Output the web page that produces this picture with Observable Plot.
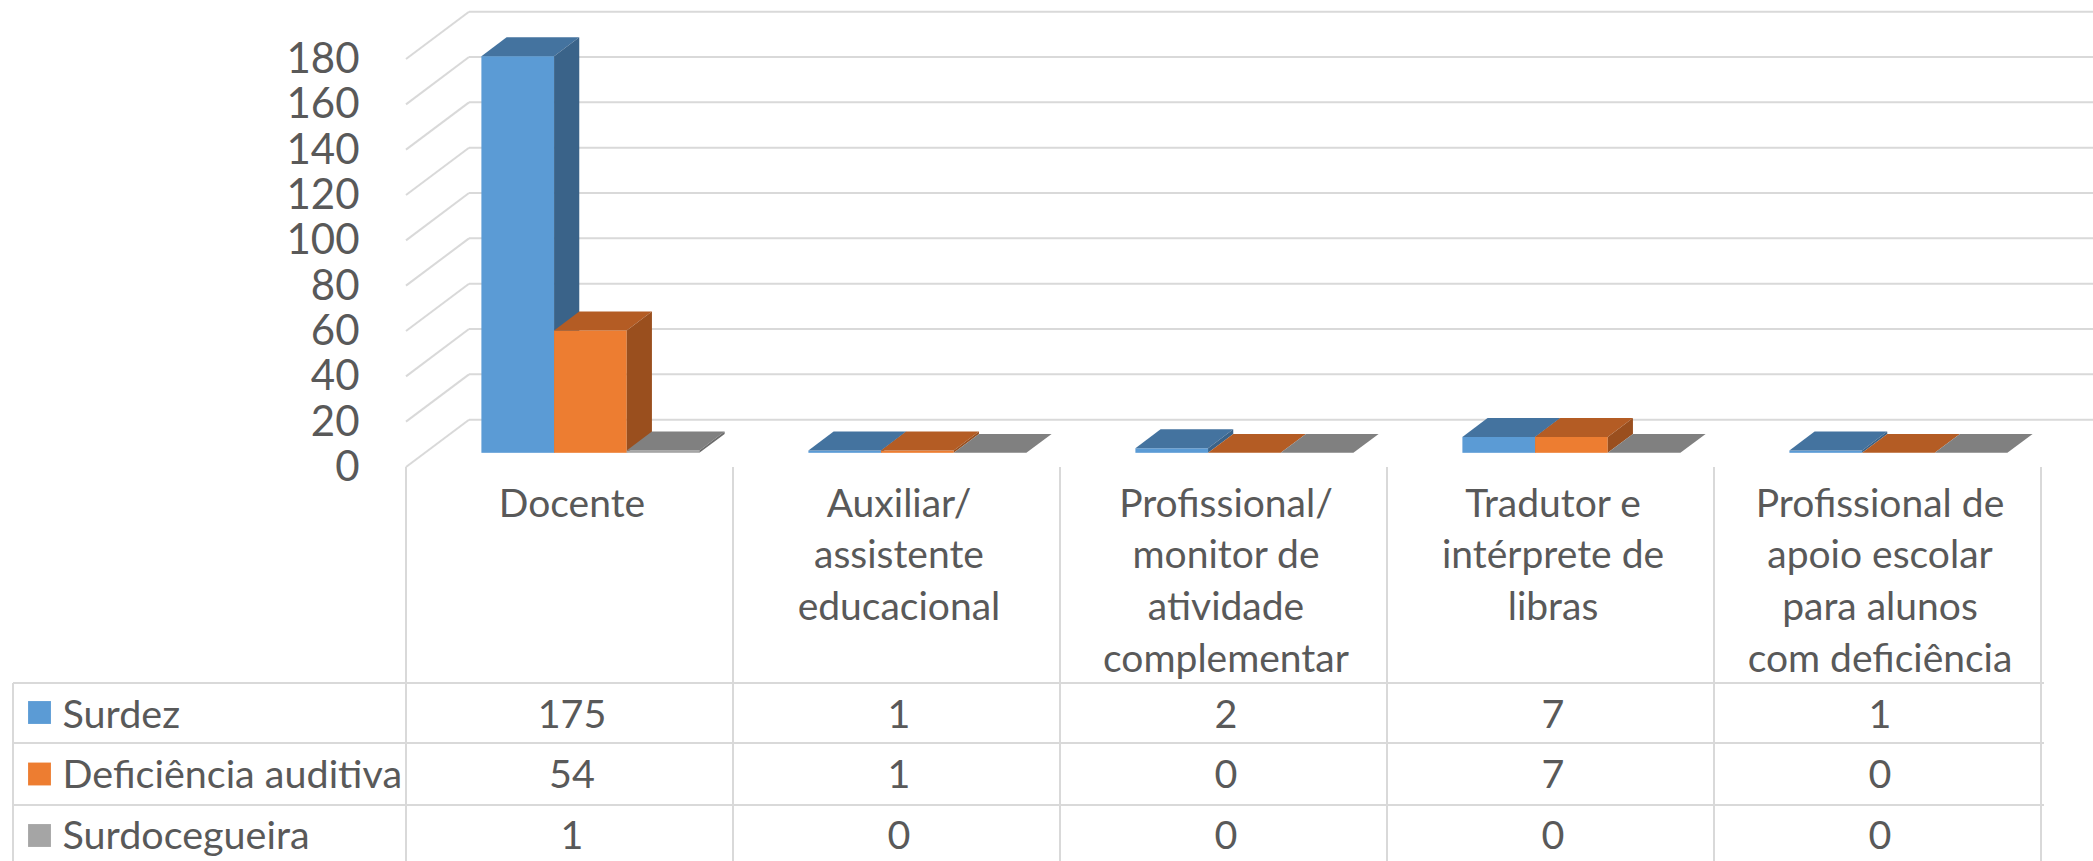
<!DOCTYPE html>
<html>
<head>
<meta charset="utf-8">
<script src="https://cdn.jsdelivr.net/npm/d3@7"></script>
<script src="https://cdn.jsdelivr.net/npm/@observablehq/plot@0.6"></script>
<style>
  html, body { margin: 0; padding: 0; background: #ffffff; }
  #chart svg { display: block; }
</style>
</head>
<body>
<div id="chart"></div>
<script>
// ---------- data ----------
const categories = [
  "Docente",
  "Auxiliar/ assistente educacional",
  "Profissional/ monitor de atividade complementar",
  "Tradutor e intérprete de libras",
  "Profissional de apoio escolar para alunos com deficiência"
];
const categoryLines = [
  ["Docente"],
  ["Auxiliar/", "assistente", "educacional"],
  ["Profissional/", "monitor de", "atividade", "complementar"],
  ["Tradutor e", "intérprete de", "libras"],
  ["Profissional de", "apoio escolar", "para alunos", "com deficiência"]
];
const seriesNames = ["Surdez", "Deficiência auditiva", "Surdocegueira"];
const surdez = [175, 1, 2, 7, 1];
const deficienciaAuditiva = [54, 1, 0, 7, 0];
const surdocegueira = [1, 0, 0, 0, 0];
const yTicks = [0, 20, 40, 60, 80, 100, 120, 140, 160, 180];

// ---------- styling ----------
const seriesValues = [surdez, deficienciaAuditiva, surdocegueira];
const faceColors = [
  {front: "#5B9BD5", top: "#44739F", side: "#3A6389"},
  {front: "#ED7D31", top: "#B45C24", side: "#9A4F1E"},
  {front: "#A5A5A5", top: "#808080", side: "#6C6C6C"}
];
const W = 2093, H = 861;
const FONT = "Lato, 'Open Sans', sans-serif";
const TEXT = "#595959";
const GRID = "#D9D9D9";
const depth = {dx: 63, dy: -47.3};      // projection of the full floor depth
const barDepth = [0.3, 0.7];           // bar occupies this slice of the depth
const gapWidth = 1.5;                  // Excel-like gap width (150%)
const table = {left: 13, top: 683, rows: [683, 743, 805], bottom: H};
const frameBottom = 467;

const tableData = seriesNames.flatMap((s, i) =>
  categories.map((c, j) => ({series: s, si: i, category: c, ci: j, value: seriesValues[i][j]}))
);

// ---------- custom 3D mark (uses Plot's x and y scales) ----------
function chart3D(index, scales, values, dimensions) {
  const x = scales.x, y = scales.y;
  const bw = x.bandwidth();
  const [rx0, rx1] = x.range();
  const g = d3.create("svg:g");

  // back wall gridlines and left-wall diagonals
  for (const t of yTicks) {
    const yf = y(t);
    g.append("line")
      .attr("x1", rx0 + depth.dx).attr("x2", dimensions.width)
      .attr("y1", yf + depth.dy).attr("y2", yf + depth.dy)
      .attr("stroke", GRID).attr("stroke-width", 2);
    g.append("line")
      .attr("x1", rx0).attr("y1", yf)
      .attr("x2", rx0 + depth.dx).attr("y2", yf + depth.dy)
      .attr("stroke", GRID).attr("stroke-width", 2);
  }

  // bars
  const w = bw / (seriesNames.length + gapWidth);
  const off = (gapWidth / 2) * w;
  const [d0, d1] = barDepth;
  const P = (px, py, d) => [px + depth.dx * d, py + depth.dy * d];
  const poly = (pts, fill) =>
    g.append("polygon").attr("points", pts.map(p => p.join(",")).join(" ")).attr("fill", fill);

  categories.forEach((c, j) => {
    seriesValues.forEach((vals, i) => {
      const v = vals[j];
      const left = x(c) + off + i * w, right = left + w;
      const yt = y(v), yb = y(0);
      const col = faceColors[i];
      if (yb - yt > 0) {
        const [fx, fy] = P(left, yt, d0);
        g.append("rect").attr("x", fx).attr("y", fy)
          .attr("width", w).attr("height", yb - yt).attr("fill", col.front);
      }
      poly([P(left, yt, d0), P(right, yt, d0), P(right, yt, d1), P(left, yt, d1)], col.top);
      if (yb - yt > 0) {
        poly([P(right, yt, d0), P(right, yt, d1), P(right, yb, d1), P(right, yb, d0)], col.side);
      }
    });
  });

  // data table grid
  const lineStyle = sel => sel.attr("stroke", GRID).attr("stroke-width", 2);
  for (const ty of table.rows) {
    lineStyle(g.append("line").attr("x1", table.left).attr("x2", rx1).attr("y1", ty).attr("y2", ty));
  }
  lineStyle(g.append("line").attr("x1", table.left).attr("x2", table.left).attr("y1", table.top).attr("y2", table.bottom));
  for (let k = 0; k <= categories.length; k++) {
    const xx = rx0 + k * bw;
    lineStyle(g.append("line").attr("x1", xx).attr("x2", xx).attr("y1", frameBottom).attr("y2", table.bottom));
  }
  return g.node();
}

// ---------- text marks ----------
const catFont = 39, catLH = 51.7 / catFont;
const tableFont = 39.5;
const rowBaseline = i => 727 + i * 60.5 - frameBottom;
const rowCenter = i => 712 + i * 61.5 - frameBottom;

const marks = [
  chart3D,
  Plot.axisY({ticks: yTicks, tickSize: 0, tickPadding: 47, fontSize: 42, label: null, fill: TEXT}),
  Plot.text(categories, {
    x: d => d,
    text: (d, i) => categoryLines[i].join("\n"),
    frameAnchor: "bottom",
    lineAnchor: "top",
    lineHeight: catLH,
    dy: 516 - frameBottom - 0.71 * catLH * catFont,
    fontSize: catFont,
    fill: TEXT
  })
];
seriesNames.forEach((s, i) => {
  marks.push(Plot.dot([s], {
    frameAnchor: "bottom-left", dx: 39 - 406, dy: rowCenter(i),
    symbol: "square", r: 12.9, fill: faceColors[i].front, stroke: null
  }));
  marks.push(Plot.text([s], {
    frameAnchor: "bottom-left", text: d => d, textAnchor: "start",
    lineAnchor: "bottom", dx: 62 - 406, dy: rowBaseline(i),
    fontSize: tableFont, fill: TEXT
  }));
  marks.push(Plot.text(tableData.filter(d => d.si === i), {
    x: "category", text: d => String(d.value), frameAnchor: "bottom",
    lineAnchor: "bottom", dy: rowBaseline(i), fontSize: tableFont, fill: TEXT
  }));
});

const plot = Plot.plot({
  width: W,
  height: H,
  marginLeft: 406,
  marginRight: W - 2044,
  marginTop: 59,
  marginBottom: H - frameBottom,
  style: {fontFamily: FONT, background: "#ffffff", overflow: "visible"},
  x: {type: "band", domain: categories, paddingInner: 0, paddingOuter: 0, axis: null},
  y: {type: "linear", domain: [0, 180], axis: null},
  marks
});
document.getElementById("chart").append(plot);
</script>
</body>
</html>
